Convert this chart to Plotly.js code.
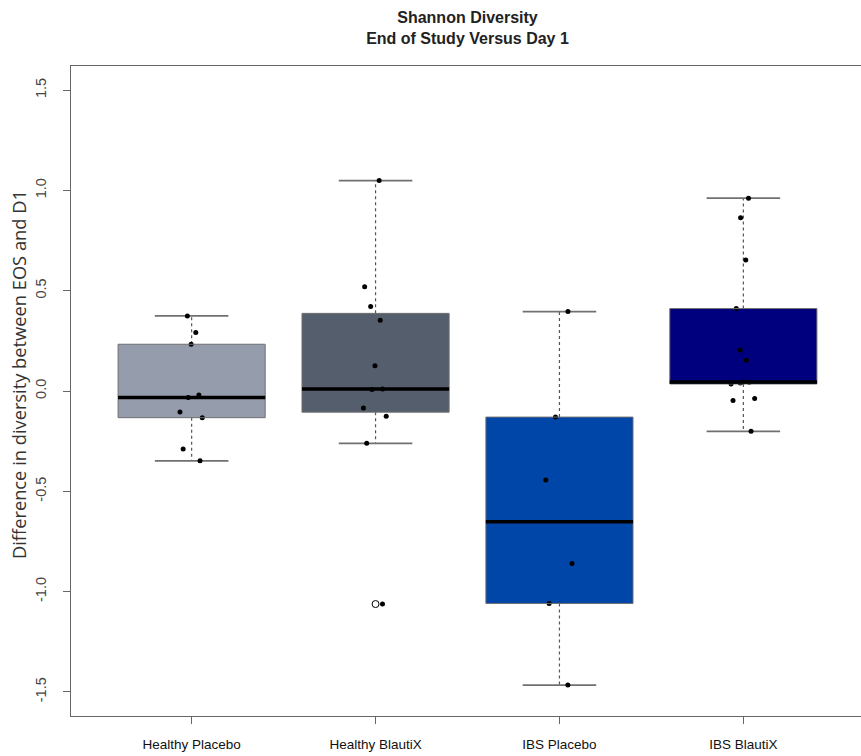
<!DOCTYPE html>
<html>
<head>
<meta charset="utf-8">
<script src="https://cdn.plot.ly/plotly-3.0.1.min.js"></script>
<style>
html, body { margin: 0; padding: 0; background: #fff; overflow: hidden; }
#chart { width: 866px; height: 756px; }
</style>
</head>
<body>
<div id="chart"></div>
<script>
// ---- data ----
const categories = ['Healthy Placebo', 'Healthy BlautiX', 'IBS Placebo', 'IBS BlautiX'];
const healthyPlacebo = [0.374, 0.291, 0.233, -0.020, -0.033, -0.105, -0.133, -0.289, -0.348];
const healthyBlautix = [1.049, 0.520, 0.421, 0.353, 0.126, 0.010, 0.008, -0.085, -0.126, -0.261, -1.062];
const ibsPlacebo = [0.396, -0.130, -0.444, -0.860, -1.059, -1.466];
const ibsBlautix = [0.961, 0.864, 0.653, 0.411, 0.204, 0.153, 0.045, 0.043, 0.040, 0.035, -0.038, -0.047, -0.201];
const yTickVals = [-1.5, -1.0, -0.5, 0.0, 0.5, 1.0, 1.5];
const yTickText = ['-1.5', '-1.0', '-0.5', '0.0', '0.5', '1.0', '1.5'];
const yTitle = 'Difference in diversity between EOS and D1';

// ---- styles ----
const groups = [healthyPlacebo, healthyBlautix, ibsPlacebo, ibsBlautix];
const fills = ['#959dac', '#545e6d', '#0045a8', '#00007f'];
const sans = '"Liberation Sans", Arial, sans-serif';
const sans2 = '"Open Sans", "Liberation Sans", Arial, sans-serif';

// Tukey five-number summary (as R boxplot.stats)
function median(a) {
  const n = a.length, m = Math.floor(n / 2);
  return n % 2 ? a[m] : (a[m - 1] + a[m]) / 2;
}
function stats(vals) {
  const s = vals.slice().sort((a, b) => a - b);
  const n = s.length;
  const half = Math.floor((n + 1) / 2);
  const q1 = median(s.slice(0, half));
  const q3 = median(s.slice(n - half));
  const med = median(s);
  const iqr = q3 - q1;
  const inside = s.filter(v => v >= q1 - 1.5 * iqr && v <= q3 + 1.5 * iqr);
  const out = s.filter(v => v < q1 - 1.5 * iqr || v > q3 + 1.5 * iqr);
  return { q1, q3, med, lo: inside[0], hi: inside[inside.length - 1], out };
}

const traces = [];
const shapes = [];
const boxHalf = 0.4, capHalf = 0.2;

groups.forEach((vals, i) => {
  const st = stats(vals);
  traces.push({
    type: 'box',
    x: vals.map(() => categories[i]),
    y: vals,
    quartilemethod: 'inclusive',
    fillcolor: fills[i],
    line: { width: 0, color: 'rgba(0,0,0,0)' },
    width: 0.8,
    whiskerwidth: 0.5,
    boxpoints: 'all',
    jitter: 0.22,
    pointpos: 0,
    marker: { color: '#000', size: 5 },
    hoverinfo: 'y',
    showlegend: false
  });
  // dashed whiskers
  [[st.q3, st.hi], [st.q1, st.lo]].forEach(([a, b]) => {
    shapes.push({ type: 'line', xref: 'x', yref: 'y', layer: 'below',
      x0: i, x1: i, y0: a, y1: b,
      line: { color: '#555', width: 1.2, dash: '3px,3px' } });
  });
  // caps
  [st.hi, st.lo].forEach(v => {
    shapes.push({ type: 'line', xref: 'x', yref: 'y', layer: 'below',
      x0: i - capHalf, x1: i + capHalf, y0: v, y1: v,
      line: { color: '#707070', width: 1.8 } });
  });
  // box outline
  shapes.push({ type: 'rect', xref: 'x', yref: 'y', layer: 'above',
    x0: i - boxHalf, x1: i + boxHalf, y0: st.q1, y1: st.q3,
    line: { color: '#6f6f6f', width: 1 }, fillcolor: 'rgba(0,0,0,0)' });
  // median
  shapes.push({ type: 'line', xref: 'x', yref: 'y', layer: 'above',
    x0: i - boxHalf, x1: i + boxHalf, y0: st.med, y1: st.med,
    line: { color: '#000', width: 3.5 } });
  // outliers as open circles
  if (st.out.length) {
    traces.push({
      type: 'scatter', mode: 'markers',
      x: st.out.map(() => categories[i]), y: st.out,
      marker: { symbol: 'circle-open', size: 7, color: '#000', line: { width: 1 } },
      hoverinfo: 'y', showlegend: false
    });
  }
});

const layout = {
  width: 866, height: 756,
  margin: { l: 71, r: 2, t: 66, b: 40 },
  paper_bgcolor: '#fff', plot_bgcolor: '#fff',
  showlegend: false,
  title: {
    text: 'Shannon Diversity<br>End of Study Versus Day 1',
    x: 0.5, xref: 'paper', xanchor: 'center',
    y: 0.969, yref: 'container', yanchor: 'middle',
    font: { family: sans, size: 16, color: '#222', weight: 'bold' }
  },
  xaxis: {
    type: 'category',
    categoryorder: 'array', categoryarray: categories,
    range: [-0.656, 3.656],
    showgrid: false, zeroline: false,
    showline: true, mirror: true, linecolor: '#666', linewidth: 1,
    ticks: 'outside', ticklen: 7, tickcolor: '#666',
    ticklabelstandoff: 9,
    tickfont: { family: sans, size: 13.5, color: '#111' },
    automargin: false
  },
  yaxis: {
    range: [-1.62, 1.62],
    tickvals: yTickVals, ticktext: yTickText,
    tickangle: -90,
    showgrid: false, zeroline: false,
    showline: true, mirror: true, linecolor: '#666', linewidth: 1,
    ticks: 'outside', ticklen: 7, tickcolor: '#666',
    ticklabelstandoff: 11,
    tickfont: { family: sans, size: 14.5, color: '#444' },
    automargin: false
  },
  annotations: [{
    text: yTitle, textangle: -90,
    xref: 'paper', yref: 'paper', x: -0.0668, y: 0.5246,
    xanchor: 'center', yanchor: 'middle', showarrow: false,
    font: { family: sans2, size: 18.3, color: '#333' }
  }],
  shapes: shapes
};

Plotly.newPlot('chart', traces, layout, { displayModeBar: false, staticPlot: true });
</script>
</body>
</html>
